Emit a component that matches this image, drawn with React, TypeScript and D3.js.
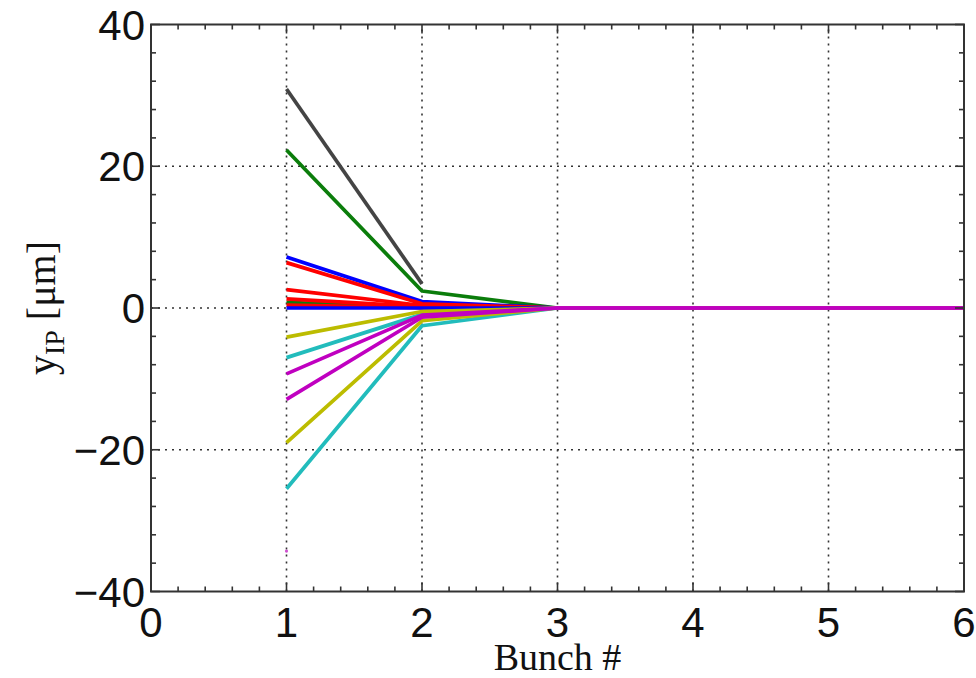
import React from 'react';
import * as d3 from 'd3';

// bunch numbers and y_IP offsets [um] per bunch
const bunch = [1, 2, 3, 4, 5, 6];

const yGray = [30.9, 3.4];
const yGreenHigh = [22.3, 2.4, 0, 0, 0, 0];
const yBlueHigh = [7.2, 0.9, 0, 0, 0, 0];
const yRedHigh = [6.4, 0.6, 0, 0, 0, 0];
const yRedMid = [2.6, 0.35, 0, 0, 0, 0];
const yRedLow = [1.3, 0.2, 0, 0, 0, 0];
const yGreenLow = [0.8, 0.1, 0, 0, 0, 0];
const yRedZero = [0.4, 0.05, 0, 0, 0, 0];
const yBlueZero = [0.0, 0.0, 0, 0, 0, 0];
const yCyanLow = [-25.5, -2.5, 0, 0, 0, 0];
const yOliveLow = [-19.0, -1.8, 0, 0, 0, 0];
const yCyanHigh = [-7.0, -0.9, 0, 0, 0, 0];
const yOliveHigh = [-4.1, -0.5, 0, 0, 0, 0];
const yMagentaLow = [-12.9, -1.3, 0, 0, 0, 0];
const yMagentaHigh = [-9.3, -1.0, 0, 0, 0, 0];
const yMagentaDot = [-34.3];

const seriesValues = [
  yGray, yGreenHigh, yBlueHigh, yRedHigh, yRedMid, yGreenLow, yRedLow, yRedZero, yBlueZero,
  yCyanLow, yOliveLow, yCyanHigh, yOliveHigh, yMagentaLow, yMagentaHigh,
];
const seriesColors = [
  '#444444', '#0b7d0b', '#0000ff', '#ff0000', '#ff0000', '#0b7d0b', '#ff0000', '#ff0000', '#0000ff',
  '#22bcbc', '#bcbc00', '#22bcbc', '#bcbc00', '#c000c0', '#c000c0',
];

const xTicks = [0, 1, 2, 3, 4, 5, 6];
const yTicks = [-40, -20, 0, 20, 40];

const width = 976;
const height = 678;
const margin = { top: 24.5, right: 12, bottom: 86.5, left: 151 };

export default function App() {
  const x = d3.scaleLinear().domain([0, 6]).range([margin.left, width - margin.right]);
  const y = d3.scaleLinear().domain([-40, 40]).range([height - margin.bottom, margin.top]);

  const line = d3.line<number>()
    .x((_, i) => x(bunch[i]))
    .y(d => y(d));

  const xMinor = d3.range(0, 6.001, 0.2).filter(v => Math.abs(v - Math.round(v)) > 0.01);
  const yMinor = d3.range(-40, 40.001, 4).filter(v => v % 20 !== 0);

  const [x0, x1] = x.range();
  const [y0, y1] = y.range(); // y0 bottom, y1 top
  const tickColor = '#333';
  const sansFont = '"Liberation Sans", Arial, sans-serif';
  const serifFont = '"Liberation Serif", "Times New Roman", serif';

  return (
    <svg width={width} height={height} style={{ position: 'absolute', left: 0, top: 0, background: '#fff' }}>
      {/* grid */}
      <g stroke="#333" strokeWidth={1.6} strokeDasharray="2,5">
        {xTicks.slice(1, -1).map(t => (
          <line key={'gx' + t} x1={x(t)} x2={x(t)} y1={y0} y2={y1} />
        ))}
        {yTicks.slice(1, -1).map(t => (
          <line key={'gy' + t} x1={x0} x2={x1} y1={y(t)} y2={y(t)} />
        ))}
      </g>

      {/* data */}
      <g fill="none" strokeWidth={3.7} strokeLinejoin="round">
        {seriesValues.map((vals, i) => (
          <path key={i} d={line(vals) || ''} stroke={seriesColors[i]} />
        ))}
      </g>
      {yMagentaDot.map((v, i) => (
        <circle key={'dot' + i} cx={x(bunch[i])} cy={y(v)} r={1.6} fill="#d050d0" />
      ))}

      {/* frame */}
      <rect x={x0} y={y1} width={x1 - x0} height={y0 - y1} fill="none" stroke={tickColor} strokeWidth={2} />

      {/* ticks, inward on all four sides */}
      <g stroke={tickColor} strokeWidth={1.6}>
        {xTicks.map(t => (
          <g key={'xt' + t}>
            <line x1={x(t)} x2={x(t)} y1={y0} y2={y0 - 9} />
            <line x1={x(t)} x2={x(t)} y1={y1} y2={y1 + 9} />
          </g>
        ))}
        {xMinor.map(t => (
          <g key={'xm' + t}>
            <line x1={x(t)} x2={x(t)} y1={y0} y2={y0 - 5} />
            <line x1={x(t)} x2={x(t)} y1={y1} y2={y1 + 5} />
          </g>
        ))}
        {yTicks.map(t => (
          <g key={'yt' + t}>
            <line x1={x0} x2={x0 + 9} y1={y(t)} y2={y(t)} />
            <line x1={x1} x2={x1 - 9} y1={y(t)} y2={y(t)} />
          </g>
        ))}
        {yMinor.map(t => (
          <g key={'ym' + t}>
            <line x1={x0} x2={x0 + 5} y1={y(t)} y2={y(t)} />
            <line x1={x1} x2={x1 - 5} y1={y(t)} y2={y(t)} />
          </g>
        ))}
      </g>

      {/* tick labels */}
      <g fontFamily={sansFont} fontSize={42} fill="#111">
        {xTicks.map(t => (
          <text key={'xl' + t} x={x(t)} y={y0 + 45} textAnchor="middle">{t}</text>
        ))}
        {yTicks.map(t => (
          <text key={'yl' + t} x={x0 - 6} y={y(t) + 15} textAnchor="end">
            {t < 0 ? '\u2212' + Math.abs(t) : String(t)}
          </text>
        ))}
      </g>

      {/* axis titles */}
      <text x={(x0 + x1) / 2} y={670} textAnchor="middle" fontFamily={serifFont} fontSize={38} fill="#111">
        Bunch #
      </text>
      <text
        transform={`translate(55, ${y(0)}) rotate(-90)`}
        textAnchor="middle"
        fontFamily={serifFont}
        fontSize={40}
        fill="#111"
      >
        y<tspan fontSize={28} dy={9}>IP</tspan><tspan dy={-9}> [μm]</tspan>
      </text>
    </svg>
  );
}
